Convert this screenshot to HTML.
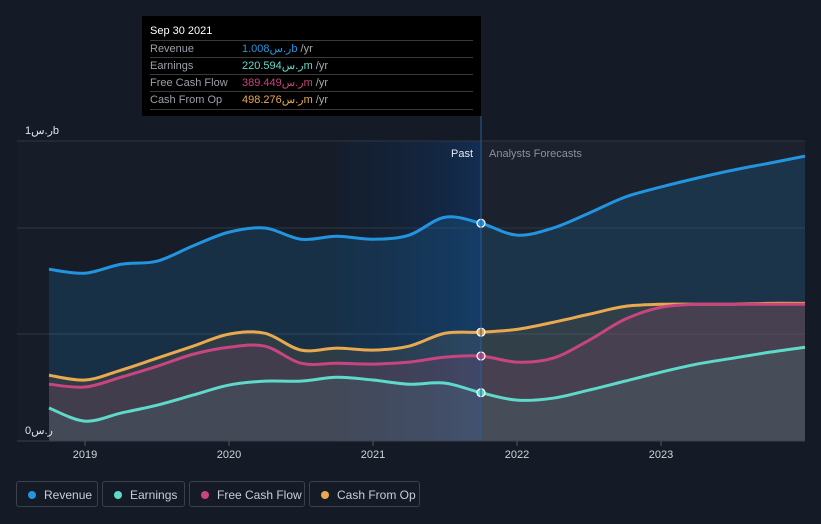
<!DOCTYPE html>
<html><head><meta charset="utf-8">
<style>
html,body{margin:0;padding:0;background:#151b26;width:821px;height:524px;overflow:hidden;font-family:"Liberation Sans","Noto Sans CJK SC",sans-serif;}
#wrap{position:relative;width:821px;height:524px;}
svg{position:absolute;left:0;top:0;}
.legend{position:absolute;top:481px;height:26px;border:1px solid #3a414c;border-radius:3px;color:#c9ced6;font-size:12px;line-height:26px;box-sizing:border-box;padding-left:27px;}
.legend i{position:absolute;left:11px;top:9px;width:8px;height:8px;border-radius:50%;}
#tip{position:absolute;left:142px;top:16px;width:339px;height:100px;background:#000;font-size:11px;color:#9aa0a8;}
#tip .row{position:absolute;left:8px;width:323px;height:17px;line-height:17px;border-top:1px solid #3a3a3a;}
#tip .v{position:absolute;left:92px;}
</style></head><body>
<div id="wrap">
<svg id="chart" width="821" height="524"></svg>
<div id="tip">
 <div style="position:absolute;left:8px;top:9px;color:#fff;font-size:11px;">Sep 30 2021</div>
 <div class="row" style="top:24px">Revenue<span class="v" style="color:#2394df">1.008ر.سb <span style="color:#aaa">/yr</span></span></div>
 <div class="row" style="top:41px">Earnings<span class="v" style="color:#5fd9c9">220.594ر.سm <span style="color:#aaa">/yr</span></span></div>
 <div class="row" style="top:58px">Free Cash Flow<span class="v" style="color:#c8457f">389.449ر.سm <span style="color:#aaa">/yr</span></span></div>
 <div class="row" style="top:75px;border-bottom:1px solid #3a3a3a">Cash From Op<span class="v" style="color:#e9a94f">498.276ر.سm <span style="color:#aaa">/yr</span></span></div>
</div>
<div class="legend" style="left:16px;width:82px"><i style="background:#2394df"></i>Revenue</div>
<div class="legend" style="left:102px;width:83px"><i style="background:#5fd9c9"></i>Earnings</div>
<div class="legend" style="left:189px;width:116px"><i style="background:#c8457f"></i>Free Cash Flow</div>
<div class="legend" style="left:309px;width:111px"><i style="background:#e9a94f"></i>Cash From Op</div>
</div>
<script>
const times=[2018.75,2019,2019.25,2019.5,2019.75,2020,2020.25,2020.5,2020.75,2021,2021.25,2021.5,2021.75,2022,2022.25,2022.5,2022.75,2023,2023.25,2023.5,2023.75,2024];
const revenue=[786,768,809,823,893,967,986,934,948,934,953,1036,1008,953,986,1055,1129,1176,1217,1254,1286,1319];
const earnings=[151,91,128,164,210,256,274,274,292,279,260,265,221,187,196,233,274,315,352,379,406,429];
const fcf=[260,247,292,342,397,429,434,356,356,352,361,384,389,361,379,461,557,612,626,626,626,626];
const cfo=[301,279,324,379,434,489,493,416,425,416,434,493,498,511,543,580,616,626,626,626,630,630];
const xTicks=[2019,2020,2021,2022,2023];
const nowT=2021.75;
const X=t=>85+(t-2019)*144;
const Y=v=>441-v*(v>900?0.216:0.2185);
const svg=document.getElementById('chart');
const NS='http://www.w3.org/2000/svg';
function mk(tag,attrs,parent){const e=document.createElementNS(NS,tag);for(const k in attrs)e.setAttribute(k,attrs[k]);(parent||svg).appendChild(e);return e;}
const defs=mk('defs',{});
defs.innerHTML='<linearGradient id="pastg" x1="0" x2="1" y1="0" y2="0"><stop offset="0" stop-color="#0f2240" stop-opacity="0.2"/><stop offset="1" stop-color="#12325e" stop-opacity="0.75"/></linearGradient>';
let e=mk('rect',{x:17,y:141,width:X(nowT)-17,height:300,fill:'#161d28'});

e=mk('rect',{x:337,y:141,width:X(nowT)-337,height:300,fill:'url(#pastg)'});

e=mk('rect',{x:X(nowT),y:141,width:805-X(nowT),height:300,fill:'#1b222d'});

[141,228,334].forEach(y=>{const g=mk('line',{x1:17,x2:805,y1:y,y2:y,stroke:'#2f3743','stroke-width':1});
});
function pathD(vals){const p=vals.map((v,i)=>[X(times[i]),Y(v)]);let d='M'+p[0][0]+','+p[0][1];
for(let i=0;i<p.length-1;i++){const p0=p[Math.max(0,i-1)],p1=p[i],p2=p[i+1],p3=p[Math.min(p.length-1,i+2)];
const c1=[p1[0]+(p2[0]-p0[0])/6,p1[1]+(p2[1]-p0[1])/6],c2=[p2[0]-(p3[0]-p1[0])/6,p2[1]-(p3[1]-p1[1])/6];
d+=' C'+c1[0]+','+c1[1]+' '+c2[0]+','+c2[1]+' '+p2[0]+','+p2[1];}return d;}
const series=[['revenue',revenue,'#2394df','rgba(35,148,223,0.16)'],['cash-from-op',cfo,'#e9a94f','rgba(233,169,79,0.10)'],['free-cash-flow',fcf,'#c8457f','rgba(200,69,127,0.14)'],['earnings',earnings,'#5fd9c9','rgba(95,217,201,0.08)']];
series.forEach(s=>{const d=pathD(s[1]);
const a=mk('path',{d:d+' L'+X(times[times.length-1])+',441 L'+X(times[0])+',441 Z',fill:s[3]});

const l=mk('path',{d:d,fill:'none',stroke:s[2],'stroke-width':3});
});
series.forEach(s=>{const i=times.indexOf(nowT);const c=mk('circle',{cx:X(nowT),cy:Y(s[1][i]),r:4,fill:s[2],stroke:'#fff','stroke-width':1.2});
});
e=mk('line',{x1:X(nowT),x2:X(nowT),y1:116,y2:441,stroke:'#2a5b93','stroke-width':1});

e=mk('line',{x1:17,x2:805,y1:441,y2:441,stroke:'#3a414c','stroke-width':1});

xTicks.forEach(t=>{const tk=mk('line',{x1:X(t),x2:X(t),y1:441,y2:446,stroke:'#555'});

const tx=mk('text',{x:X(t),y:458,fill:'#d0d4da','font-size':11,'text-anchor':'middle'});tx.textContent=t;
});
function txt(x,y,s,fill,anchor,name){const t=mk('text',{x:x,y:y,fill:fill,'font-size':11,'text-anchor':anchor||'start'});t.textContent=s;
}
txt(25,134,'1ر.سb','#e0e3e8','start','y-label-top');
txt(25,434,'0ر.س','#e0e3e8','start','y-label-zero');
txt(473,157,'Past','#e8ebef','end','past-label');
txt(489,157,'Analysts Forecasts','#8a919b','start','forecast-label');
</script>
</body></html>
